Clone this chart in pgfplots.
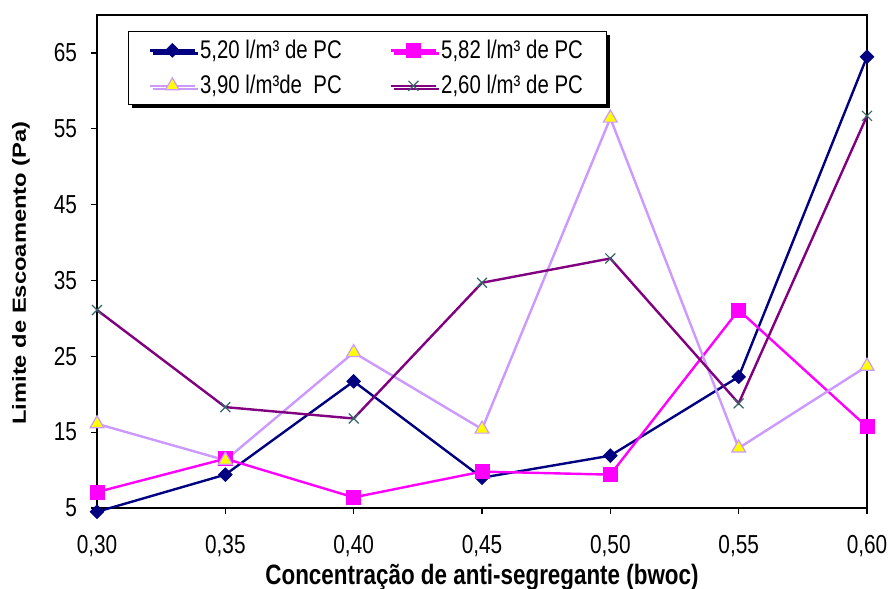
\documentclass[border=0pt]{standalone}
\usepackage{fontspec}
\setmainfont{Liberation Sans}
% upright text, set tall and narrow
\newfontfamily\tallfont[FakeStretch=0.8]{Liberation Sans}
% rotated axis label: wide in its own direction, which becomes the vertical
\newfontfamily\widefont[FakeStretch=1.25]{Liberation Sans}
\usepackage{pgfplots}
\pgfplotsset{compat=1.18}
\usetikzlibrary{shadows}

\definecolor{navyline}{HTML}{000080}
\definecolor{magline}{HTML}{FF00FF}
\definecolor{lavline}{HTML}{CC99FF}
\definecolor{plumline}{HTML}{800080}
\definecolor{tealmark}{HTML}{336666}
\definecolor{yellowfill}{HTML}{FFFF00}

\begin{document}
\begin{tikzpicture}
\begin{axis}[
  scale only axis,
  width=385pt, height=246.5pt,
  xmin=0.30, xmax=0.60,
  ymin=5, ymax=70,
  clip=false,
  axis line style={black, line width=0.6pt},
  xtick={0.30,0.35,0.40,0.45,0.50,0.55,0.60},
  ytick={5,15,25,35,45,55,65},
  tick align=outside,
  major tick length=3pt,
  tick style={black, line width=0.6pt},
  xtick pos=bottom, ytick pos=left,
  /pgf/number format/assume math mode=true,
  x tick label style={font=\tallfont\fontsize{13}{15}\selectfont, yshift=-7pt,
    /pgf/number format/.cd, fixed, fixed zerofill, precision=2, use comma},
  y tick label style={font=\tallfont\fontsize{13}{15}\selectfont, xshift=-3.5pt,
    /pgf/number format/.cd, fixed, precision=0},
  scaled x ticks=false,
  every axis x label/.style={at={(axis description cs:0.5,-0.14)}, anchor=center},
  every axis y label/.style={at={(axis description cs:-0.0987,0.4767)}, rotate=90, anchor=center},
  xlabel={\tallfont\bfseries\fontsize{14}{16}\selectfont Concentração de anti-segregante (bwoc)},
  ylabel={\widefont\bfseries\fontsize{9.5}{11}\selectfont Limite de Escoamento (Pa)},
  legend columns=2,
  legend cell align=left,
  legend image code/.code={%
    \draw[mark repeat=2, mark phase=2, #1]
      plot coordinates {(0pt,0pt) (11.25pt,0pt) (22.5pt,0pt)};},
  legend style={
    at={(0.0403,0.9675)}, anchor=north west,
    draw=black, line width=0.6pt, fill=white,
    drop shadow={shadow xshift=1.5pt, shadow yshift=-1.5pt, fill=black, opacity=1},
    font=\tallfont\fontsize{12.75}{14}\selectfont,
    inner xsep=10pt, inner ysep=2pt,
    row sep=3pt,
    /tikz/every even column/.append style={column sep=22pt},
  },
]

% 5,20 l/m3 de PC
\addplot[color=navyline, line width=1.2pt,
  mark=square*, mark size=2.4pt, mark options={rotate=45, fill=navyline, line width=0.4pt}]
  coordinates {(0.30,4.5) (0.35,9.4) (0.40,21.7) (0.45,9.0) (0.50,11.9) (0.55,22.3) (0.60,64.5)};
\addlegendentry{5,20 l/m³ de PC}

% 5,82 l/m3 de PC
\addplot[color=magline, line width=1.2pt,
  mark=square*, mark size=3.5pt, mark options={fill=magline, line width=0.4pt}]
  coordinates {(0.30,7.1) (0.35,11.5) (0.40,6.4) (0.45,9.8) (0.50,9.4) (0.55,31.1) (0.60,15.7)};
\addlegendentry{5,82 l/m³ de PC}

% 3,90 l/m3 de PC
\addplot[color=lavline, line width=1.2pt,
  mark=triangle*, mark size=4pt, mark options={fill=yellowfill, draw=lavline, line width=0.6pt}]
  coordinates {(0.30,16.1) (0.35,11.3) (0.40,25.5) (0.45,15.4) (0.50,56.4) (0.55,12.9) (0.60,23.7)};
\addlegendentry{3,90 l/m³de\ \ PC}

% 2,60 l/m3 de PC
\addplot[color=plumline, line width=1.2pt,
  mark=x, mark size=3.5pt, mark options={draw=tealmark, line width=0.6pt}]
  coordinates {(0.30,31.1) (0.35,18.3) (0.40,16.8) (0.45,34.7) (0.50,37.9) (0.55,18.8) (0.60,56.7)};
\addlegendentry{2,60 l/m³ de PC}

\end{axis}
\pgfresetboundingbox
\path[use as bounding box]
  ([xshift=-48.5pt, yshift=-40pt]current axis.south west)
  rectangle ([xshift=12pt, yshift=7.5pt]current axis.north east);
\end{tikzpicture}
\end{document}
